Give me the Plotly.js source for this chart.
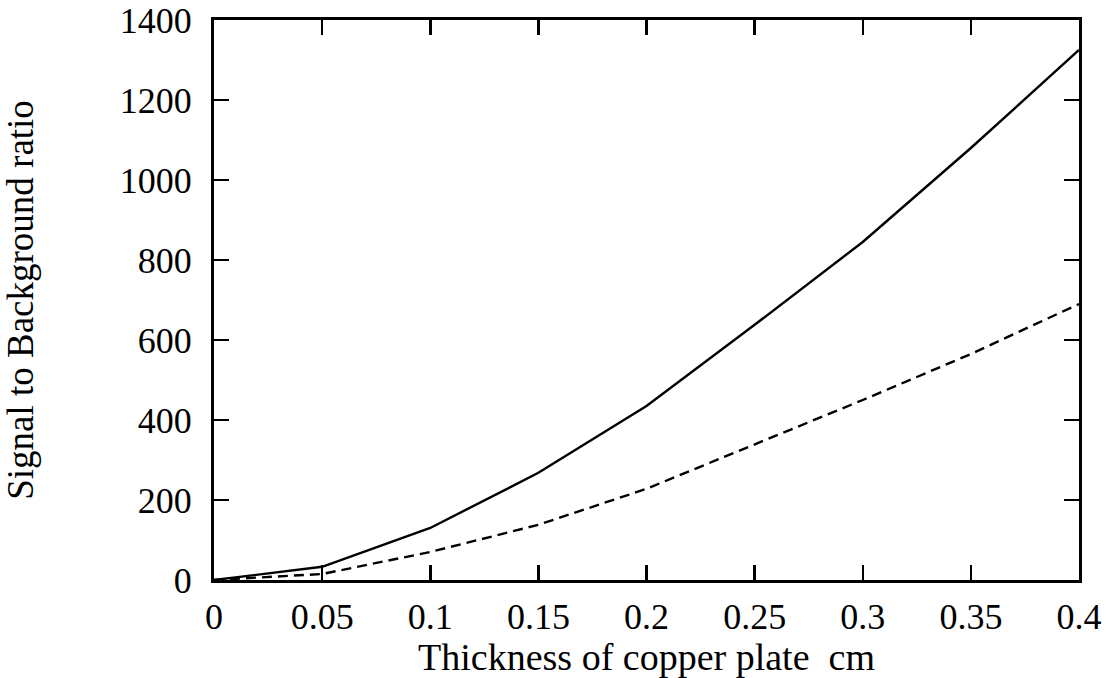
<!DOCTYPE html>
<html>
<head>
<meta charset="utf-8">
<script src="https://cdn.plot.ly/plotly-3.0.1.min.js"></script>
<style>html,body{margin:0;padding:0;background:#fff;}#chart{width:1112px;height:678px;}</style>
</head>
<body>
<div id="chart"></div>
<script>
const thickness = [0, 0.05, 0.1, 0.15, 0.2, 0.25, 0.3, 0.35, 0.4];
const solidRatio = [0, 33, 130, 268, 435, 638, 845, 1080, 1325];
const dashedRatio = [0, 15, 70, 138, 228, 338, 450, 565, 690];
const xTickVals = [0, 0.05, 0.1, 0.15, 0.2, 0.25, 0.3, 0.35, 0.4];
const xTickText = ['0', '0.05', '0.1', '0.15', '0.2', '0.25', '0.3', '0.35', '0.4'];
const yTickVals = [0, 200, 400, 600, 800, 1000, 1200, 1400];
const yTickText = ['0', '200', '400', '600', '800', '1000', '1200', '1400'];

const font = 'Liberation Serif, Times New Roman, serif';
const traces = [
  {x: thickness, y: solidRatio, mode: 'lines', line: {color: '#000', width: 2.4}, showlegend: false, hoverinfo: 'skip'},
  {x: thickness, y: dashedRatio, mode: 'lines', line: {color: '#000', width: 2.4, dash: '10px,6px'}, showlegend: false, hoverinfo: 'skip'}
];
const axisCommon = {
  showline: true, linecolor: '#000', linewidth: 3, mirror: 'ticks',
  ticks: 'inside', ticklen: 15, tickwidth: 2.5, tickcolor: '#000',
  showgrid: false, zeroline: false, tickmode: 'array',
  tickfont: {family: font, size: 36, color: '#000'}
};
const layout = {
  width: 1112, height: 678,
  margin: {l: 214, r: 33, t: 20, b: 98},
  paper_bgcolor: '#fff', plot_bgcolor: '#fff',
  xaxis: Object.assign({}, axisCommon, {
    range: [0, 0.4], tickvals: xTickVals, ticktext: xTickText, ticklabelstandoff: 3,
    title: {text: 'Thickness of copper plate&nbsp;&nbsp;cm', font: {family: font, size: 38, color: '#000'}, standoff: 3}
  }),
  yaxis: Object.assign({}, axisCommon, {
    range: [0, 1400], tickvals: yTickVals, ticktext: yTickText, ticklabelstandoff: 12,
    title: {text: 'Signal to Background ratio', font: {family: font, size: 37, color: '#000'}, standoff: 76}
  })
};
Plotly.newPlot('chart', traces, layout, {staticPlot: true, displayModeBar: false});
</script>
</body>
</html>
